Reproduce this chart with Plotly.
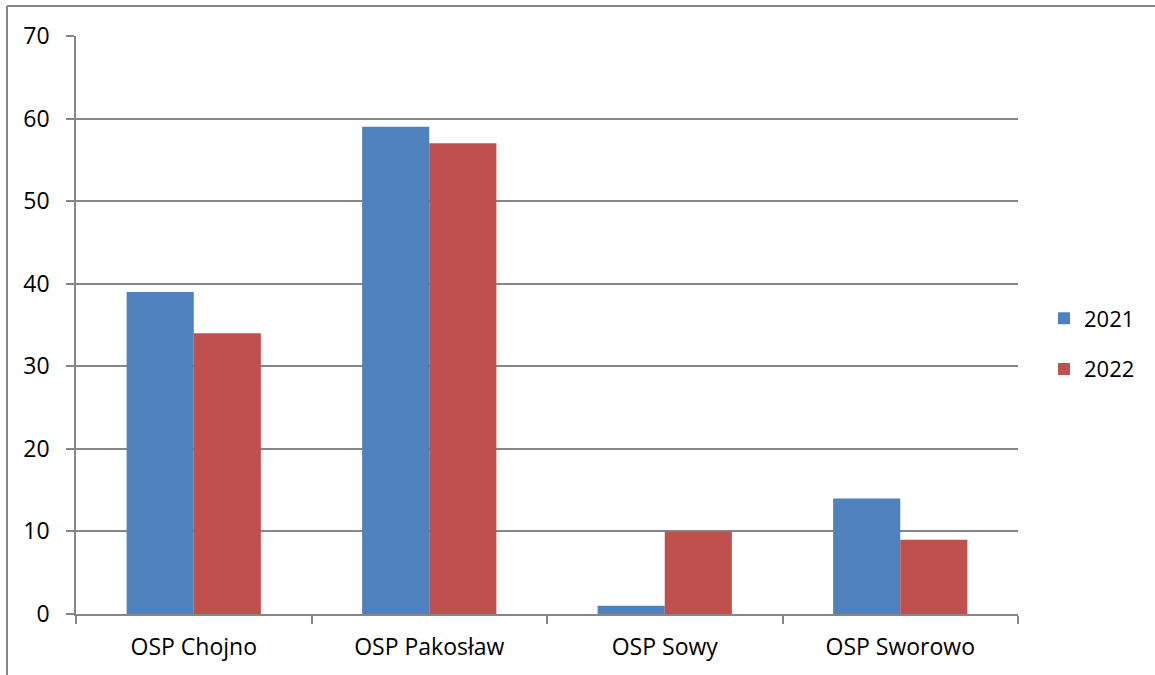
import plotly.graph_objects as go

categories = ["OSP Chojno", "OSP Pakosław", "OSP Sowy", "OSP Sworowo"]
values_2021 = [39, 59, 1, 14]
values_2022 = [34, 57, 10, 9]
series_names = ["2021", "2022"]
y_ticks = [0, 10, 20, 30, 40, 50, 60, 70]

W, H = 1155, 675
ML, MT = 76, 36
PLOT_R, PLOT_B = 1018, 614
MR, MB = W - PLOT_R, H - PLOT_B
PW, PH = W - ML - MR, H - MT - MB

def px_x(p):
    return (p - ML) / PW

def px_y(p):
    return (PLOT_B - p) / PH

FONT = "Open Sans"
FS = 23
GRID = "#868686"

fig = go.Figure()
fig.add_trace(go.Bar(x=categories, y=values_2021, name=series_names[0],
                     legendgroup="a",
                     marker=dict(color="#4F81BD", line=dict(width=0))))
fig.add_trace(go.Bar(x=categories, y=values_2022, name=series_names[1],
                     legendgroup="b",
                     marker=dict(color="#C0504D", line=dict(width=0))))

fig.update_layout(
    width=W, height=H,
    margin=dict(l=ML, r=MR, t=MT, b=MB, pad=0, autoexpand=False),
    paper_bgcolor="white", plot_bgcolor="white",
    barmode="group", bargap=0.43, bargroupgap=0,
    font=dict(family=FONT, size=FS, color="black"),
    showlegend=True,
    legend=dict(x=px_x(1044), y=px_y(344), xanchor="left", yanchor="middle",
                font=dict(family=FONT, size=FS - 1), itemsizing="constant",
                tracegroupgap=19, bgcolor="rgba(0,0,0,0)"),
    xaxis=dict(showline=True, linecolor=GRID, linewidth=1.5,
               ticks="outside", ticklen=8, tickcolor=GRID, tickwidth=1.5,
               tickson="boundaries", showgrid=False,
               tickfont=dict(family=FONT, size=FS), ticklabelstandoff=12),
    yaxis=dict(range=[0, 70], tickvals=y_ticks, showline=True, linecolor=GRID,
               linewidth=1.5, ticks="outside", ticklen=8, tickcolor=GRID,
               tickwidth=1.5, showgrid=True, gridcolor=GRID, gridwidth=1.5,
               zeroline=False, tickfont=dict(family=FONT, size=FS),
               ticklabelstandoff=12),
    shapes=[
        dict(type="line", xref="paper", yref="paper",
             x0=px_x(7), x1=px_x(1160), y0=px_y(6), y1=px_y(6),
             line=dict(color=GRID, width=2)),
        dict(type="line", xref="paper", yref="paper",
             x0=px_x(7), x1=px_x(7), y0=px_y(6), y1=px_y(680),
             line=dict(color=GRID, width=2)),
    ],
)

fig.write_html("out.html", config={"displayModeBar": False},
               post_script="document.body.style.margin='0';document.body.style.overflow='hidden';")
